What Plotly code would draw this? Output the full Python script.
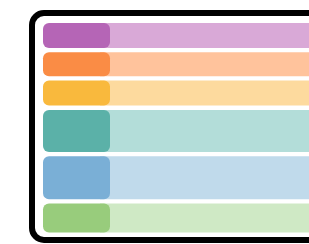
import plotly.graph_objects as go

# ---- data ----
row_labels = ["Row 1", "Row 2", "Row 3", "Row 4", "Row 5", "Row 6"]
row_sizes = [25, 24, 25, 42, 43, 29]          # relative row heights
key_share = [67, 67, 67, 67, 67, 67]          # key column extent
body_share = [220, 220, 220, 220, 220, 220]   # body column extent
key_colors = ["#B565B6", "#FA8C45", "#F9B93D", "#5BB1A8", "#7AAFD6", "#98CC7C"]
body_colors = ["#D9A9D7", "#FFC39C", "#FDDA9E", "#B3DDD9", "#C0DAEB", "#CFE9C5"]

# ---- layout helpers ----
W, H = 309, 244
gap = 4.3
top0 = 23
centers = []
y = top0
for s in row_sizes:
    centers.append(y + s / 2)
    y += s + gap

key_left = 43
body_left = key_left + key_share[0] - 10

fig = go.Figure()

# frame
fig.add_trace(go.Bar(
    x=[32 + 154], y=[227], base=[13], width=[308],
    orientation="v",
    marker=dict(color="white", line=dict(color="black", width=6), cornerradius=12),
    hoverinfo="skip", showlegend=False, cliponaxis=True,
))

# body column
fig.add_trace(go.Bar(
    y=centers, x=body_share, base=[body_left] * len(row_sizes), width=row_sizes,
    orientation="h",
    marker=dict(color=body_colors, line=dict(width=0)),
    hoverinfo="skip", showlegend=False, customdata=row_labels,
))

# key column
fig.add_trace(go.Bar(
    y=centers, x=key_share, base=[key_left] * len(row_sizes), width=row_sizes,
    orientation="h",
    marker=dict(color=key_colors, line=dict(width=0), cornerradius=6),
    hoverinfo="skip", showlegend=False, customdata=row_labels,
))

fig.update_layout(
    width=W, height=H,
    margin=dict(l=0, r=0, t=0, b=0),
    paper_bgcolor="white", plot_bgcolor="white",
    barmode="overlay",
    xaxis=dict(range=[0, W], visible=False, fixedrange=True),
    yaxis=dict(range=[H, 0], visible=False, fixedrange=True),
)

fig.write_html(
    "out.html",
    config={"displayModeBar": False},
    post_script="document.body.style.margin='0';document.body.style.overflow='hidden';",
)
